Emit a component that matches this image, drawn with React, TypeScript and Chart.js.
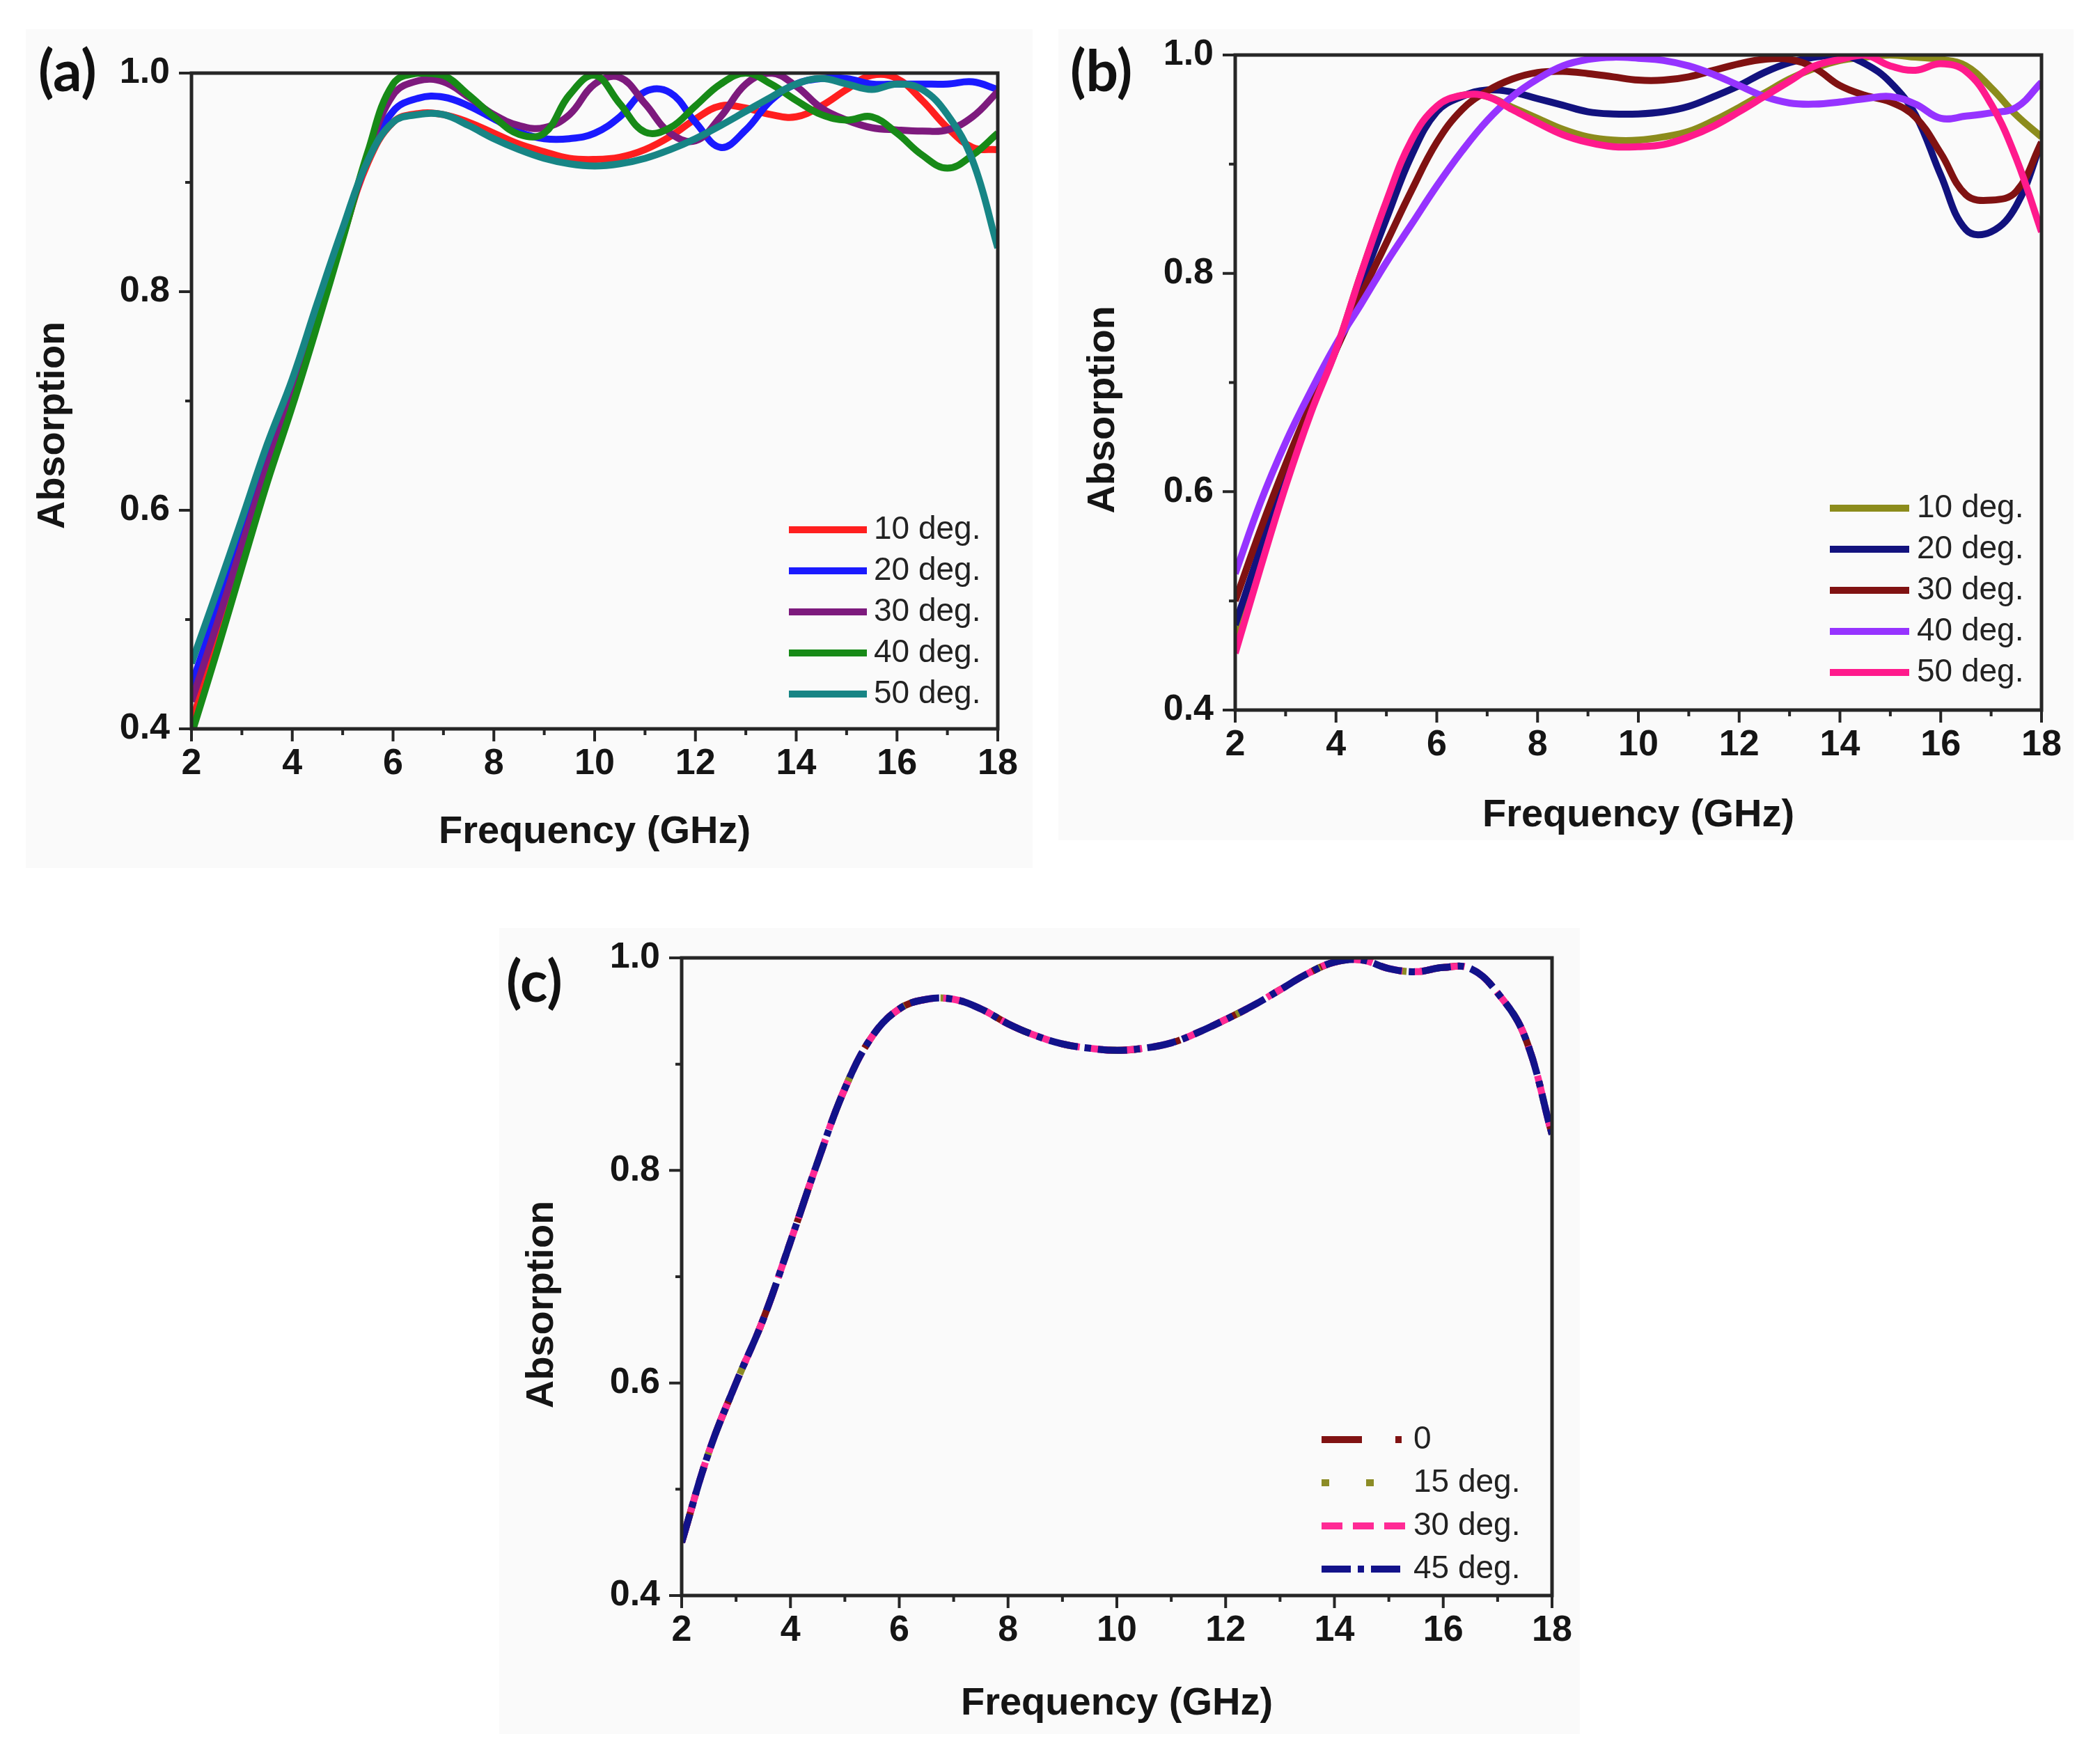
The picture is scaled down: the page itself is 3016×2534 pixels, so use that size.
import { useEffect, useRef } from 'react';
import { Chart, registerables } from 'chart.js';

Chart.register(...registerables);

// frequency samples (GHz) every 0.5 GHz
const freqGHz = [2, 2.5, 3, 3.5, 4, 4.5, 5, 5.5, 6, 6.5, 7, 7.5, 8, 8.5, 9, 9.5, 10, 10.5, 11, 11.5, 12, 12.5, 13, 13.5, 14, 14.5, 15, 15.5, 16, 16.5, 17, 17.5, 18];

// (a)
const aLabels = ['10 deg.', '20 deg.', '30 deg.', '40 deg.', '50 deg.'];
const a10 = [0.405, 0.48, 0.555, 0.63, 0.7, 0.775, 0.85, 0.918, 0.955, 0.963, 0.962, 0.955, 0.945, 0.935, 0.928, 0.922, 0.921, 0.923, 0.93, 0.942, 0.958, 0.97, 0.968, 0.962, 0.96, 0.97, 0.985, 0.998, 0.995, 0.975, 0.95, 0.932, 0.93];
const a20 = [0.44, 0.508, 0.578, 0.648, 0.712, 0.782, 0.852, 0.922, 0.965, 0.977, 0.978, 0.97, 0.958, 0.946, 0.94, 0.94, 0.945, 0.96, 0.983, 0.982, 0.955, 0.932, 0.948, 0.975, 0.99, 0.995, 0.995, 0.99, 0.99, 0.99, 0.99, 0.992, 0.985];
const a30 = [0.425, 0.495, 0.568, 0.64, 0.705, 0.778, 0.85, 0.925, 0.98, 0.993, 0.992, 0.978, 0.962, 0.952, 0.95, 0.962, 0.99, 0.996, 0.972, 0.945, 0.938, 0.96, 0.99, 1.0, 0.988, 0.968, 0.957, 0.95, 0.948, 0.947, 0.948, 0.96, 0.983];
const a40 = [0.395, 0.47, 0.548, 0.625, 0.695, 0.77, 0.848, 0.928, 0.99, 1.0, 0.998, 0.98, 0.96, 0.944, 0.945, 0.98, 0.998, 0.972, 0.946, 0.95, 0.97, 0.99, 1.0, 0.99, 0.975, 0.962, 0.957, 0.96, 0.945, 0.925, 0.913, 0.925, 0.945];
const a50 = [0.46, 0.525, 0.592, 0.66, 0.72, 0.79, 0.858, 0.92, 0.955, 0.962, 0.962, 0.952, 0.94, 0.93, 0.922, 0.917, 0.915, 0.917, 0.922, 0.93, 0.94, 0.952, 0.965, 0.978, 0.99, 0.995, 0.99, 0.985, 0.99, 0.985, 0.962, 0.92, 0.84];
const aColors = ['#ff1f1f', '#1a1aff', '#7d1a7d', '#178a17', '#178585'];

// (b)
const bLabels = ['10 deg.', '20 deg.', '30 deg.', '40 deg.', '50 deg.'];
const b10 = [0.462, 0.535, 0.61, 0.675, 0.73, 0.8, 0.865, 0.92, 0.952, 0.963, 0.962, 0.952, 0.942, 0.932, 0.925, 0.922, 0.922, 0.925, 0.93, 0.94, 0.952, 0.965, 0.978, 0.988, 0.995, 0.998, 1.0, 0.998, 0.996, 0.99, 0.97, 0.945, 0.925];
const b20 = [0.478, 0.548, 0.618, 0.68, 0.73, 0.79, 0.85, 0.908, 0.948, 0.962, 0.968, 0.966, 0.96, 0.954, 0.948, 0.946, 0.946, 0.948, 0.953, 0.962, 0.972, 0.984, 0.993, 0.998, 1.0, 0.992, 0.975, 0.945, 0.89, 0.84, 0.838, 0.862, 0.92];
const b30 = [0.5, 0.565, 0.625, 0.68, 0.73, 0.78, 0.828, 0.876, 0.92, 0.95, 0.967, 0.978, 0.984, 0.985, 0.983, 0.98, 0.977, 0.977, 0.98, 0.986, 0.992, 0.996, 0.996, 0.988, 0.972, 0.963, 0.957, 0.943, 0.91, 0.872, 0.867, 0.875, 0.92];
const b40 = [0.525, 0.59, 0.645, 0.692, 0.735, 0.772, 0.81, 0.845, 0.88, 0.912, 0.94, 0.962, 0.978, 0.99, 0.996, 0.998, 0.997, 0.995, 0.99, 0.982, 0.972, 0.962, 0.956, 0.955, 0.957, 0.96, 0.962, 0.955, 0.942, 0.944, 0.947, 0.952, 0.975];
const b50 = [0.452, 0.53, 0.605, 0.672, 0.73, 0.8, 0.866, 0.922, 0.953, 0.963, 0.962, 0.95, 0.938, 0.927, 0.92, 0.916, 0.916, 0.918, 0.925, 0.935, 0.948, 0.962, 0.976, 0.99, 0.996, 1.0, 0.99, 0.986, 0.992, 0.985, 0.955, 0.905, 0.838];
const bColors = ['#8c8c1c', '#12127e', '#801212', '#9633ff', '#ff1a8c'];

// (c) - the four curves lie on top of each other
const cLabels = ['0', '15 deg.', '30 deg.', '45 deg.'];
const c0 = [0.45, 0.535, 0.6, 0.66, 0.733, 0.808, 0.877, 0.926, 0.952, 0.961, 0.961, 0.952, 0.938, 0.927, 0.919, 0.915, 0.913, 0.915, 0.92, 0.93, 0.942, 0.955, 0.97, 0.985, 0.996, 0.998, 0.99, 0.987, 0.991, 0.99, 0.967, 0.926, 0.834];
const c15 = [0.45, 0.535, 0.6, 0.66, 0.733, 0.808, 0.877, 0.926, 0.952, 0.961, 0.961, 0.952, 0.938, 0.927, 0.919, 0.915, 0.913, 0.915, 0.92, 0.93, 0.942, 0.955, 0.97, 0.985, 0.996, 0.998, 0.99, 0.987, 0.991, 0.99, 0.967, 0.926, 0.834];
const c30 = [0.45, 0.535, 0.6, 0.66, 0.733, 0.808, 0.877, 0.926, 0.952, 0.961, 0.961, 0.952, 0.938, 0.927, 0.919, 0.915, 0.913, 0.915, 0.92, 0.93, 0.942, 0.955, 0.97, 0.985, 0.996, 0.998, 0.99, 0.987, 0.991, 0.99, 0.967, 0.926, 0.834];
const c45 = [0.45, 0.535, 0.6, 0.66, 0.733, 0.808, 0.877, 0.926, 0.952, 0.961, 0.961, 0.952, 0.938, 0.927, 0.919, 0.915, 0.913, 0.915, 0.92, 0.93, 0.942, 0.955, 0.97, 0.985, 0.996, 0.998, 0.99, 0.987, 0.991, 0.99, 0.967, 0.926, 0.834];
const cColors = ['#801212', '#8c8c26', '#ff2a95', '#12128a'];
const cDashes = [[58, 48, 9, 48], [11, 53], [30, 15], [42, 10, 9, 10]];

// axis ticks
const xMajorTicks = [2, 4, 6, 8, 10, 12, 14, 16, 18];
const xMinorTicks = [3, 5, 7, 9, 11, 13, 15, 17];
const yMajorTicks = [0.4, 0.6, 0.8, 1.0];
const yMinorTicks = [0.5, 0.7, 0.9];

const FONT = '"Liberation Sans", Arial, sans-serif';
const INK = '#151515';

const framePlugin = {
    id: 'frame',
    afterDraw(chart: any) {
        const { ctx, chartArea, scales } = chart;
        const { left, right, top, bottom } = chartArea;
        ctx.save();
        ctx.strokeStyle = '#262626';
        ctx.lineWidth = 5;
        ctx.strokeRect(left, top, right - left, bottom - top);
        ctx.lineWidth = 4;
        ctx.beginPath();
        xMajorTicks.forEach((v) => {
            const px = scales.x.getPixelForValue(v);
            ctx.moveTo(px, bottom);
            ctx.lineTo(px, bottom + 18);
        });
        xMinorTicks.forEach((v) => {
            const px = scales.x.getPixelForValue(v);
            ctx.moveTo(px, bottom);
            ctx.lineTo(px, bottom + 9);
        });
        yMajorTicks.forEach((v) => {
            const py = scales.y.getPixelForValue(v);
            ctx.moveTo(left, py);
            ctx.lineTo(left - 18, py);
        });
        yMinorTicks.forEach((v) => {
            const py = scales.y.getPixelForValue(v);
            ctx.moveTo(left, py);
            ctx.lineTo(left - 9, py);
        });
        ctx.stroke();
        ctx.restore();
    },
};

// y-axis title, set a little below the middle of the axis as in the original
const yTitlePlugin = {
    id: 'yTitle',
    afterDraw(chart: any, _args: any, opts: any) {
        const { ctx, chartArea } = chart;
        ctx.save();
        ctx.translate(opts.x, (chartArea.top + chartArea.bottom) / 2 + opts.shift);
        ctx.rotate(-Math.PI / 2);
        ctx.fillStyle = INK;
        ctx.font = `bold 56px ${FONT}`;
        ctx.textAlign = 'center';
        ctx.textBaseline = 'middle';
        ctx.fillText(opts.text, 0, 0);
        ctx.restore();
    },
};

const cornerLegend = {
    id: 'cornerLegend',
    afterDraw(chart: any, _args: any, opts: any) {
        const { ctx, chartArea } = chart;
        const sets = chart.data.datasets;
        sets.forEach((ds: any, i: number) => {
            const yy = chartArea.bottom - opts.bottomGap - (sets.length - 1 - i) * opts.rowGap;
            ctx.save();
            ctx.strokeStyle = ds.borderColor;
            ctx.lineWidth = ds.borderWidth;
            ctx.setLineDash(ds.borderDash || []);
            ctx.beginPath();
            ctx.moveTo(chartArea.right - opts.lineFrom, yy);
            ctx.lineTo(chartArea.right - opts.lineTo, yy);
            ctx.stroke();
            ctx.setLineDash([]);
            ctx.fillStyle = '#222';
            ctx.font = `46px ${FONT}`;
            ctx.textAlign = 'left';
            ctx.textBaseline = 'middle';
            ctx.fillText(ds.label, chartArea.right - opts.textFrom, yy);
            ctx.restore();
        });
    },
};

type PanelProps = {
    tag: string;
    left: number;
    top: number;
    width: number;
    height: number;
    inset: { l: number; t: number; r: number; b: number };
    yTitle: { x: number; shift: number };
    xTitlePad: number;
    tagPos: { x: number; y: number };
    legend: { lineFrom: number; lineTo: number; textFrom: number; bottomGap: number; rowGap: number };
    labels: string[];
    series: number[][];
    colors: string[];
    dashes?: number[][];
};

const Panel = (p: PanelProps) => {
    const canvasRef = useRef<HTMLCanvasElement | null>(null);
    const chartRef = useRef<Chart | null>(null);

    useEffect(() => {
        if (!canvasRef.current) return;
        if (chartRef.current) chartRef.current.destroy();
        const n = p.series.length;

        const datasets = p.series.map((vals, i) => ({
            label: p.labels[i],
            data: freqGHz.map((f, k) => ({ x: f, y: vals[k] })),
            borderColor: p.colors[i],
            borderWidth: 10,
            borderDash: p.dashes ? p.dashes[i] : [],
            pointRadius: 0,
            tension: 0.4,
            fill: false,
            order: n - i,
        }));

        const tickFont = { family: FONT, size: 52, weight: 'bold' as const };
        const titleFont = { family: FONT, size: 56, weight: 'bold' as const };

        chartRef.current = new Chart(canvasRef.current, {
            type: 'line',
            data: { datasets },
            plugins: [framePlugin, yTitlePlugin, cornerLegend],
            options: {
                animation: false,
                responsive: false,
                devicePixelRatio: 1,
                layout: { padding: { left: 0, top: p.inset.t, right: p.inset.r, bottom: 0 } },
                scales: {
                    x: {
                        type: 'linear',
                        min: 2,
                        max: 18,
                        afterFit: (s: any) => {
                            s.height = p.inset.b;
                            s.paddingLeft = 0;
                            s.paddingRight = 0;
                        },
                        ticks: { stepSize: 2, padding: 19, font: tickFont, color: INK, maxRotation: 0, autoSkip: false },
                        grid: { display: false, drawTicks: false },
                        border: { display: false },
                        title: {
                            display: true,
                            text: 'Frequency (GHz)',
                            font: titleFont,
                            color: INK,
                            padding: { top: 0, bottom: p.xTitlePad },
                        },
                    },
                    y: {
                        type: 'linear',
                        min: 0.4,
                        max: 1.0,
                        afterFit: (s: any) => {
                            s.width = p.inset.l;
                            s.paddingTop = 0;
                            s.paddingBottom = 0;
                        },
                        ticks: {
                            stepSize: 0.2,
                            padding: 31,
                            font: tickFont,
                            color: INK,
                            callback: (v: any) => Number(v).toFixed(1),
                        },
                        grid: { display: false, drawTicks: false },
                        border: { display: false },
                        title: { display: false },
                    },
                },
                plugins: {
                    legend: { display: false },
                    tooltip: { enabled: false },
                    // @ts-ignore custom plugin options
                    cornerLegend: p.legend,
                    // @ts-ignore custom plugin options
                    yTitle: { text: 'Absorption', x: p.yTitle.x, shift: p.yTitle.shift },
                },
            },
        } as any);

        return () => {
            if (chartRef.current) {
                chartRef.current.destroy();
                chartRef.current = null;
            }
        };
    }, []);

    return (
        <div
            style={{
                position: 'absolute',
                left: p.left,
                top: p.top,
                width: p.width,
                height: p.height,
                background: '#fafafa',
            }}
        >
            <canvas ref={canvasRef} width={p.width} height={p.height} style={{ display: 'block', width: p.width, height: p.height }}></canvas>
            <div
                style={{
                    position: 'absolute',
                    left: p.tagPos.x,
                    top: p.tagPos.y,
                    fontFamily: 'Lato, "Open Sans", sans-serif',
                    fontWeight: 700,
                    fontSize: 82,
                    lineHeight: 1,
                    color: '#111',
                }}
            >
                {p.tag}
            </div>
        </div>
    );
};

const App = () => {
    return (
        <div style={{ width: 3000, height: 2518, background: '#ffffff' }}>
            <Panel
                tag="(a)"
                left={37}
                top={42}
                width={1446}
                height={1205}
                inset={{ l: 238, t: 63, r: 50, b: 200 }}
                yTitle={{ x: 40, shift: 35 }}
                xTitlePad={18}
                tagPos={{ x: 18, y: 16 }}
                legend={{ lineFrom: 300, lineTo: 188, textFrom: 178, bottomGap: 50, rowGap: 59 }}
                labels={aLabels}
                series={[a10, a20, a30, a40, a50]}
                colors={aColors}
            />
            <Panel
                tag="(b)"
                left={1520}
                top={42}
                width={1458}
                height={1165}
                inset={{ l: 254, t: 37, r: 46, b: 187 }}
                yTitle={{ x: 65, shift: 39 }}
                xTitlePad={2}
                tagPos={{ x: 17, y: 16 }}
                legend={{ lineFrom: 304, lineTo: 190, textFrom: 179, bottomGap: 54, rowGap: 59 }}
                labels={bLabels}
                series={[b10, b20, b30, b40, b50]}
                colors={bColors}
            />
            <Panel
                tag="(c)"
                left={717}
                top={1333}
                width={1552}
                height={1158}
                inset={{ l: 262, t: 43, r: 40, b: 199 }}
                yTitle={{ x: 62, shift: 40 }}
                xTitlePad={10}
                tagPos={{ x: 10, y: 33 }}
                legend={{ lineFrom: 331, lineTo: 211, textFrom: 199, bottomGap: 38, rowGap: 62 }}
                labels={cLabels}
                series={[c0, c15, c30, c45]}
                colors={cColors}
                dashes={cDashes}
            />
        </div>
    );
};

export default App;
